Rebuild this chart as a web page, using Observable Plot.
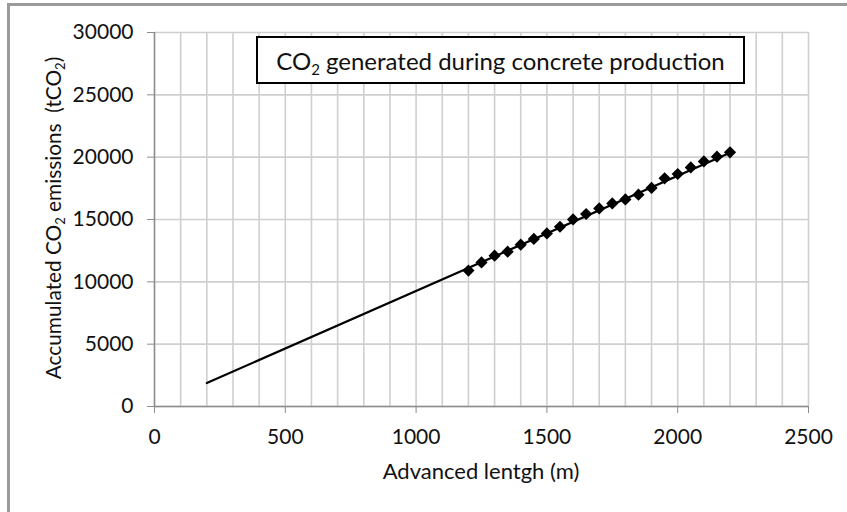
<!DOCTYPE html>
<html><head><meta charset="utf-8">
<script src="https://cdn.jsdelivr.net/npm/d3@7"></script>
<script src="https://cdn.jsdelivr.net/npm/@observablehq/plot@0.6"></script>
<style>
html,body{margin:0;padding:0;background:#fff;overflow:hidden;width:847px;height:512px;}
#wrap{position:relative;width:847px;height:512px;font-family:Lato,"Open Sans",sans-serif;}
#frame{position:absolute;left:7px;top:3px;width:900px;height:600px;border:3px solid #9a9a9a;box-sizing:border-box;pointer-events:none;}
#title{position:absolute;left:256px;top:36px;width:489px;height:48px;border:2px solid #000;background:#fff;box-sizing:border-box;display:flex;align-items:center;justify-content:center;color:#111;}
#title span.t{font-size:24px;white-space:nowrap;}
#title sub{font-size:15px;vertical-align:-5px;line-height:0;}
</style></head>
<body><div id="wrap"></div>
<script>
// Data
const lengthM = [1200,1250,1300,1350,1400,1450,1500,1550,1600,1650,1700,1750,1800,1850,1900,1950,2000,2050,2100,2150,2200];
const co2 = [10900,11560,12100,12420,12980,13440,13880,14420,15010,15440,15890,16290,16610,16990,17530,18300,18650,19180,19660,20040,20390];
const trendLength = [200, 2200];
const trendCO2 = [1880, 20350];
const xTicks = [0,500,1000,1500,2000,2500];
const yTicks = [0,5000,10000,15000,20000,25000,30000];
const xGrid = d3.range(0, 2501, 100);

const points = lengthM.map((x,i)=>({x, y: co2[i]}));
const trend = trendLength.map((x,i)=>({x, y: trendCO2[i]}));

const plot = Plot.plot({
  width: 847, height: 512,
  marginLeft: 154, marginRight: 39, marginTop: 32, marginBottom: 106,
  style: {fontFamily: "Lato, 'Open Sans', sans-serif", fontSize: "21px", color: "#111", background: "transparent"},
  x: {domain: [0, 2500]},
  y: {domain: [0, 30000]},
  marks: [
    Plot.gridX(xGrid, {stroke: "#cfcfcf", strokeOpacity: 1, strokeWidth: 1.6}),
    Plot.gridY(yTicks, {stroke: "#cfcfcf", strokeOpacity: 1, strokeWidth: 1.6}),
    Plot.ruleX([0], {stroke: "#8c8c8c", strokeWidth: 1.4}),
    Plot.ruleY([0], {stroke: "#8c8c8c", strokeWidth: 1.4}),
    Plot.axisX(xTicks, {tickSize: 7, tickPadding: 16, stroke: "#8c8c8c", label: null, fontSize: 21, tickFormat: d3.format("d")}),
    Plot.axisY(yTicks, {tickSize: 7, tickPadding: 14, stroke: "#8c8c8c", label: null, fontSize: 21, tickFormat: d3.format("d")}),
    Plot.line(trend, {x: "x", y: "y", stroke: "#000", strokeWidth: 2.2}),
    Plot.dot(points, {x: "x", y: "y", symbol: "diamond2", r: 5.5, fill: "#000", stroke: "none"})
  ]
});

const wrap = document.getElementById("wrap");
wrap.appendChild(plot);

const svg = d3.select(plot);
const sx = plot.scale("x"), sy = plot.scale("y");
// X axis title
svg.append("text")
  .attr("x", (sx.range[0] + sx.range[1]) / 2).attr("y", 479)
  .attr("text-anchor", "middle").attr("font-size", 22).attr("fill", "#111")
  .text("Advanced lentgh (m)");
// Y axis title with subscripts
const yl = svg.append("text")
  .attr("transform", `translate(61,${(sy.range[0] + sy.range[1]) / 2 - 1}) rotate(-90)`)
  .attr("text-anchor", "middle").attr("font-size", 20.8).attr("fill", "#111");
yl.append("tspan").text("Accumulated CO");
yl.append("tspan").attr("font-size", 13).attr("dy", 4).text("2");
yl.append("tspan").attr("dy", -4).attr("xml:space", "preserve").text(" emissions  (tCO");
yl.append("tspan").attr("font-size", 13).attr("dy", 4).text("2");
yl.append("tspan").attr("dy", -4).text(")");

const title = document.createElement("div");
title.id = "title";
title.innerHTML = '<span class="t">CO<sub>2</sub> generated during concrete production</span>';
wrap.appendChild(title);
const frame = document.createElement("div");
frame.id = "frame";
wrap.appendChild(frame);
</script>
</body></html>
